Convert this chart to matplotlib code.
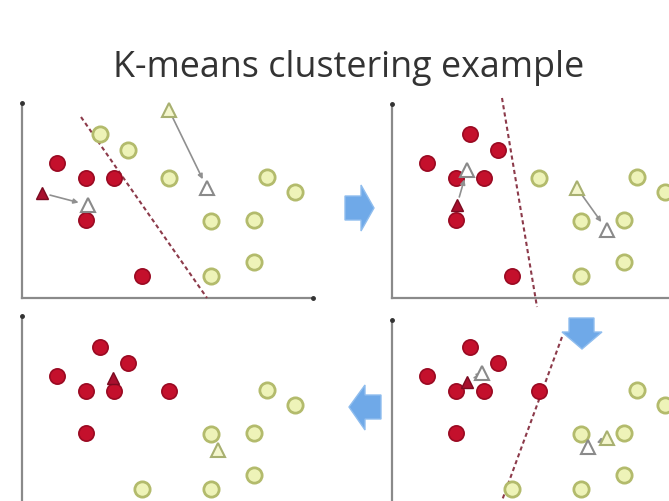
import matplotlib
matplotlib.use('Agg')
import matplotlib.pyplot as plt
from matplotlib.patches import Polygon

# data points (x, y) measured from each panel's origin
pts_x = [35, 64, 92, 64, 120, 78, 106, 147, 189, 232, 245, 273, 232, 189]
pts_y = [135, 120, 120, 78, 22, 164, 148, 120, 77, 78, 121, 106, 36, 22]

# cluster membership per panel (1 = red, 0 = yellow)
labels = [
    [1, 1, 1, 1, 1, 0, 0, 0, 0, 0, 0, 0, 0, 0],
    [1, 1, 1, 1, 1, 1, 1, 0, 0, 0, 0, 0, 0, 0],
    [1, 1, 1, 1, 0, 1, 1, 1, 0, 0, 0, 0, 0, 0],
    [1, 1, 1, 1, 0, 1, 1, 1, 0, 0, 0, 0, 0, 0],
]

# centroids: (old red, new red, old yellow, new yellow), None = not shown
red_old = [(20, 105), (65, 93), (91, 133), (75, 129)]
red_new = [(66, 93), (75, 128), None, (90, 138)]
yel_old = [(147, 188), (185, 110), (196, 61), (215, 73)]
yel_new = [(185, 110), (215, 68), None, (196, 64)]

# decision boundary per panel
bound_x = [(59, 185), (110, 145), None, (170, 108)]
bound_y = [(181, 0), (200, -9), None, (174, 5)]

# panel origins in pixels (x of y-axis, y of x-axis)
origins = [(22, 298), (392, 298), (22, 511), (392, 511)]
yaxis_top = [195, 194, 195, 191]
xaxis_len = [291, 290, 0, 0]

W, H = 669, 501
RED = '#c4102c'
RED_EDGE = '#9a0a22'
YEL = '#eef3b8'
YEL_EDGE = '#b3bb6c'
AXIS = '#8a8a8a'

fig = plt.figure(figsize=(W / 100, H / 100), dpi=100)
fig.patch.set_facecolor('white')

for i, (ox, oy) in enumerate(origins):
    left, right = ox - 22, ox + 300
    bottom, top = oy + 12, oy - 205
    ax = fig.add_axes([left / W, (H - bottom) / H, (right - left) / W, (bottom - top) / H])
    ax.set_xlim(-22, 300)
    ax.set_ylim(-12, 205)
    ax.axis('off')

    # axes lines
    ax.plot([0, 0], [0, yaxis_top[i]], color=AXIS, lw=1.6, zorder=1)
    ax.plot([0], [yaxis_top[i]], 'o', color='#333333', ms=2.5, zorder=1)
    if xaxis_len[i] > 0:
        ax.plot([0, xaxis_len[i]], [0, 0], color=AXIS, lw=1.6, zorder=1)
        ax.plot([xaxis_len[i]], [0], 'o', color='#333333', ms=2.5, zorder=1)

    # boundary
    if bound_x[i] is not None:
        ax.plot(bound_x[i], bound_y[i], color='#8c3a4a', lw=1.5,
                dashes=(2, 1.5), zorder=2)

    # points
    rx = [x for x, l in zip(pts_x, labels[i]) if l == 1]
    ry = [y for y, l in zip(pts_y, labels[i]) if l == 1]
    yx = [x for x, l in zip(pts_x, labels[i]) if l == 0]
    yy = [y for y, l in zip(pts_y, labels[i]) if l == 0]
    ax.plot(rx, ry, 'o', ms=11, mfc=RED, mec=RED_EDGE, mew=1.2, zorder=3)
    ax.plot(yx, yy, 'o', ms=11, mfc=YEL, mec=YEL_EDGE, mew=2, zorder=3)

    # centroids
    ax.plot(*red_old[i], '^', ms=9, mfc='#a8102e', mec='#7a0a20', mew=1, zorder=5)
    ax.plot(*yel_old[i], '^', ms=10, mfc='#f4f6cc', mec='#a8b070', mew=1.5, zorder=5)
    for old, new in [(red_old[i], red_new[i]), (yel_old[i], yel_new[i])]:
        if new is None:
            continue
        ax.plot(*new, '^', ms=10, mfc='white', mec='#8a8a8a', mew=1.5, zorder=5)
        ax.annotate('', xy=new, xytext=old,
                    arrowprops=dict(arrowstyle='-|>', color='#909090', lw=1.2,
                                    shrinkA=6, shrinkB=7, mutation_scale=7),
                    zorder=4)

# overlay for block arrows, in pixel coordinates
ov = fig.add_axes([0, 0, 1, 1], zorder=10)
ov.set_xlim(0, W)
ov.set_ylim(H, 0)
ov.axis('off')
ov.patch.set_alpha(0)

arrow_right = [(345, 196), (361, 196), (361, 185), (374, 208), (361, 231), (361, 220), (345, 220)]
arrow_left = [(381, 395), (365, 395), (365, 385), (349, 407), (365, 430), (365, 419), (381, 419)]
arrow_down = [(569, 318), (594, 318), (594, 332), (602, 332), (582, 349), (562, 332), (569, 332)]
for poly in [arrow_right, arrow_left, arrow_down]:
    ov.add_patch(Polygon(poly, closed=True, facecolor='#6fa9e8', edgecolor='#8fbdee', lw=1))

fig.text(348.5 / W, (H - 77) / H, 'K-means clustering example', ha='center',
         va='baseline', fontsize=25.8, family='Open Sans', color='#333333')

fig.savefig('out.png', dpi=100)
